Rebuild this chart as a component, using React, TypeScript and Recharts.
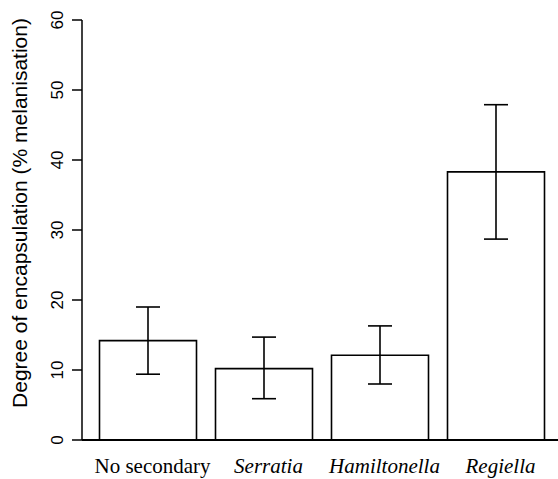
import React from 'react'
import { BarChart, Bar, XAxis, YAxis, ErrorBar } from 'recharts'

const categories = ['No secondary', 'Serratia', 'Hamiltonella', 'Regiella']
const italicNames = ['Serratia', 'Hamiltonella', 'Regiella']
const means = [14.2, 10.2, 12.1, 38.3]
const lower = [9.4, 5.9, 8.0, 28.7]
const upper = [19.0, 14.7, 16.3, 47.9]
const yTicks = [0, 10, 20, 30, 40, 50, 60]

const data = categories.map((name, i) => ({
  name,
  value: means[i],
  err: [means[i] - lower[i], upper[i] - means[i]],
}))

const sans = "'Liberation Sans', Arial, sans-serif"
const serif = "'Liberation Serif', 'Times New Roman', serif"

function CategoryTick({ x, y, payload }: any) {
  const italic = italicNames.includes(payload.value)
  return (
    <text
      x={x + 5}
      y={y + 25}
      textAnchor="middle"
      fontFamily={serif}
      fontStyle={italic ? 'italic' : 'normal'}
      fontSize={21}
      fill="#000"
    >
      {payload.value}
    </text>
  )
}

function ValueTick({ y, payload }: any) {
  const cx = 57
  return (
    <text
      x={cx}
      y={y}
      transform={`rotate(-90, ${cx}, ${y})`}
      textAnchor="middle"
      dominantBaseline="central"
      fontFamily={sans}
      fontSize={17}
      fill="#000"
    >
      {payload.value}
    </text>
  )
}

function AxisTitle() {
  const cx = 19
  const cy = 213
  return (
    <text
      x={cx}
      y={cy}
      transform={`rotate(-90, ${cx}, ${cy})`}
      textAnchor="middle"
      dominantBaseline="central"
      fontFamily={sans}
      fontSize={21}
      fill="#000"
    >
      Degree of encapsulation (% melanisation)
    </text>
  )
}

export default function App() {
  return (
    <div style={{ position: 'absolute', left: 0, top: 0, background: '#fff' }}>
      <BarChart
        width={558}
        height={479}
        data={data}
        margin={{ top: 20, right: 0, bottom: 0, left: 0 }}
      >
        <XAxis
          dataKey="name"
          height={39}
          padding={{ left: 7.5, right: 4.5 }}
          tickLine={false}
          axisLine={{ stroke: '#000', strokeWidth: 2.2 }}
          tick={<CategoryTick />}
          interval={0}
        />
        <YAxis
          width={82}
          domain={[0, 60]}
          ticks={yTicks}
          tickSize={10}
          tickLine={{ stroke: '#000', strokeWidth: 1.5 }}
          axisLine={{ stroke: '#000', strokeWidth: 1.5 }}
          tick={<ValueTick />}
          label={<AxisTitle />}
        />
        <Bar
          dataKey="value"
          barSize={97}
          fill="#fff"
          stroke="#000"
          strokeWidth={1.6}
          isAnimationActive={false}
        >
          <ErrorBar
            dataKey="err"
            width={12}
            stroke="#000"
            strokeWidth={1.6}
            isAnimationActive={false}
          />
        </Bar>
      </BarChart>
    </div>
  )
}
